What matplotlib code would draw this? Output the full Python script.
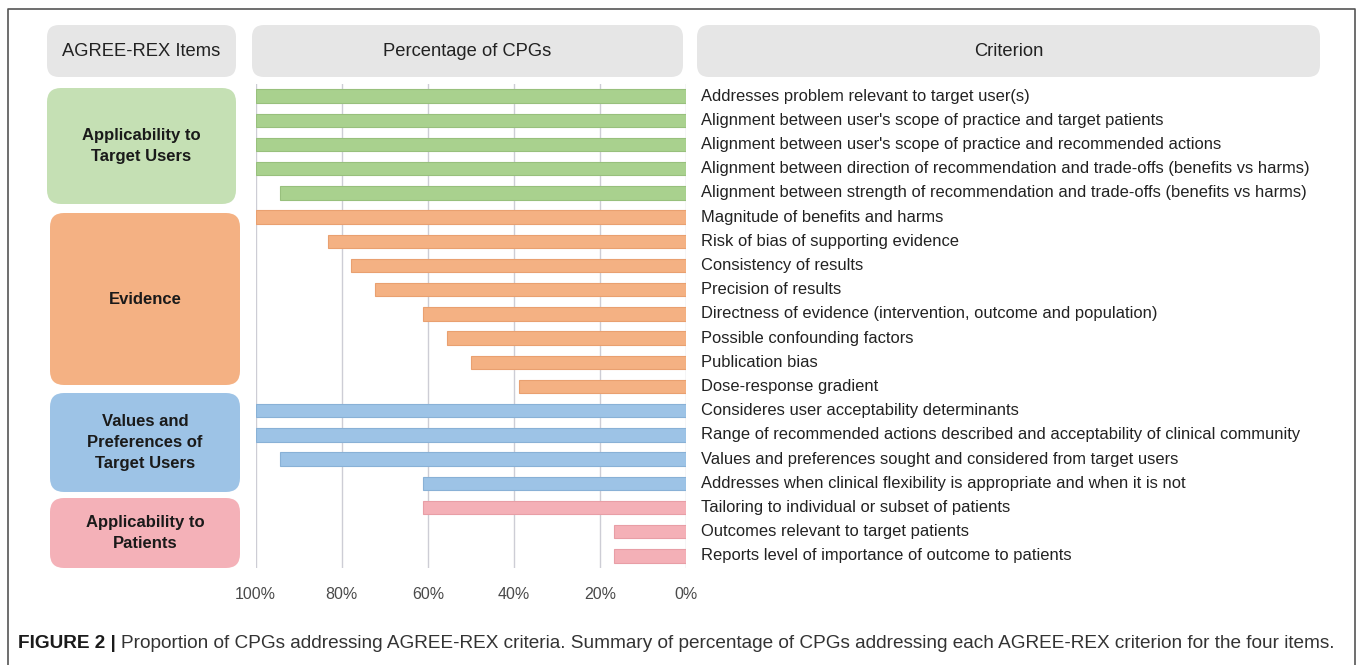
import matplotlib
matplotlib.use("Agg")
import matplotlib.pyplot as plt
from matplotlib.patches import FancyBboxPatch
from matplotlib.lines import Line2D

plt.rcParams['font.family'] = ['Liberation Sans', 'DejaVu Sans']

# ---------------- data ----------------
criteria = [
    "Addresses problem relevant to target user(s)",
    "Alignment between user's scope of practice and target patients",
    "Alignment between user's scope of practice and recommended actions",
    "Alignment between direction of recommendation and trade-offs (benefits vs harms)",
    "Alignment between strength of recommendation and trade-offs (benefits vs harms)",
    "Magnitude of benefits and harms",
    "Risk of bias of supporting evidence",
    "Consistency of results",
    "Precision of results",
    "Directness of evidence (intervention, outcome and population)",
    "Possible confounding factors",
    "Publication bias",
    "Dose-response gradient",
    "Consideres user acceptability determinants",
    "Range of recommended actions described and acceptability of clinical community",
    "Values and preferences sought and considered from target users",
    "Addresses when clinical flexibility is appropriate and when it is not",
    "Tailoring to individual or subset of patients",
    "Outcomes relevant to target patients",
    "Reports level of importance of outcome to patients",
]
percent = [100, 100, 100, 100, 94.4, 100, 83.3, 77.8, 72.2, 61.1, 55.6, 50.0, 38.9,
           100, 100, 94.4, 61.1, 61.1, 16.7, 16.7]
groups = ["Applicability to\nTarget Users", "Evidence",
          "Values and\nPreferences of\nTarget Users", "Applicability to\nPatients"]
group_sizes = [5, 8, 4, 3]
group_bar_colors = ["#a9d18e", "#f4b183", "#9dc3e6", "#f4b0b7"]
group_box_colors = ["#c5e0b4", "#f4b183", "#9dc3e6", "#f4b1b8"]
group_edge_colors = ["#98c07d", "#e9a070", "#89b1d6", "#e89ea6"]
xticks = [100, 80, 60, 40, 20, 0]
xtick_labels = ["100%", "80%", "60%", "40%", "20%", "0%"]
headers = ["AGREE-REX Items", "Percentage of CPGs", "Criterion"]

W, H = 1360, 665
fig = plt.figure(figsize=(W / 100, H / 100), dpi=100)

# overlay in pixel coordinates
ov = fig.add_axes([0, 0, 1, 1])
ov.set_xlim(0, W)
ov.set_ylim(H, 0)
ov.axis("off")

# outer frame (open at the bottom)
ov.add_line(Line2D([7.5, 7.5, 1354.5, 1354.5], [H, 8.5, 8.5, H], color="#555555", lw=1.2))

def rbox(x0, y0, x1, y1, color, r=12):
    ov.add_patch(FancyBboxPatch((x0, y0), x1 - x0, y1 - y0,
                                boxstyle=f"round,pad=0,rounding_size={r}",
                                facecolor=color, edgecolor="none", zorder=1))

# header boxes
hdr_boxes = [(47, 25, 236, 77), (252, 25, 683, 77), (697, 25, 1320, 77)]
for (x0, y0, x1, y1), t in zip(hdr_boxes, headers):
    rbox(x0, y0, x1, y1, "#e6e6e6")
    ov.text((x0 + x1) / 2, (y0 + y1) / 2 + 1, t, ha="center", va="center",
            fontsize=13.2, color="#222222", zorder=3)

# group boxes
grp_boxes = [(47, 88, 236, 204), (50, 213, 240, 385), (50, 393, 240, 492), (50, 498, 240, 568)]
for (x0, y0, x1, y1), t, c in zip(grp_boxes, groups, group_box_colors):
    rbox(x0, y0, x1, y1, c, r=14)
    ov.text((x0 + x1) / 2, (y0 + y1) / 2, t, ha="center", va="center",
            fontsize=12, fontweight="bold", color="#1a1a1a", linespacing=1.5, zorder=3)

# bar axes
ax = fig.add_axes([255.7 / W, 1 - 568 / H, (686 - 255.7) / W, (568 - 84) / H])
ax.set_facecolor("none")
ypos = list(range(len(percent)))
bar_colors, edge_colors = [], []
for c, e, n in zip(group_bar_colors, group_edge_colors, group_sizes):
    bar_colors += [c] * n
    edge_colors += [e] * n
ax.barh(ypos, percent, height=0.56, color=bar_colors, edgecolor=edge_colors,
        linewidth=0.8, zorder=2)
ax.set_xlim(100, 0)
ax.set_ylim(len(percent) - 0.5, -0.5)
ax.set_xticks(xticks)
ax.set_xticklabels(xtick_labels, fontsize=11.5, color="#4a4a4a")
ax.set_yticks([])
ax.tick_params(axis="x", length=0, pad=14)
for s in ax.spines.values():
    s.set_visible(False)
for xv in xticks:
    ax.axvline(xv, color="#cdcdd5", lw=1.0, zorder=1)

# criterion labels
for yv, lab in zip(ypos, criteria):
    ax.text(1.035, yv, lab, transform=ax.get_yaxis_transform(), ha="left", va="center",
            fontsize=11.9, color="#222222", clip_on=False)

# caption
t1 = ov.text(18, 643, "FIGURE 2 |", ha="left", va="center", fontsize=13.65,
             fontweight="bold", color="#1a1a1a")
fig.canvas.draw()
bb = t1.get_window_extent()
x_next = bb.x1 + 5
ov.text(x_next, 643, "Proportion of CPGs addressing AGREE-REX criteria. Summary of percentage of "
        "CPGs addressing each AGREE-REX criterion for the four items.",
        ha="left", va="center", fontsize=13.65, color="#333333")

fig.savefig("out.png", dpi=100)
